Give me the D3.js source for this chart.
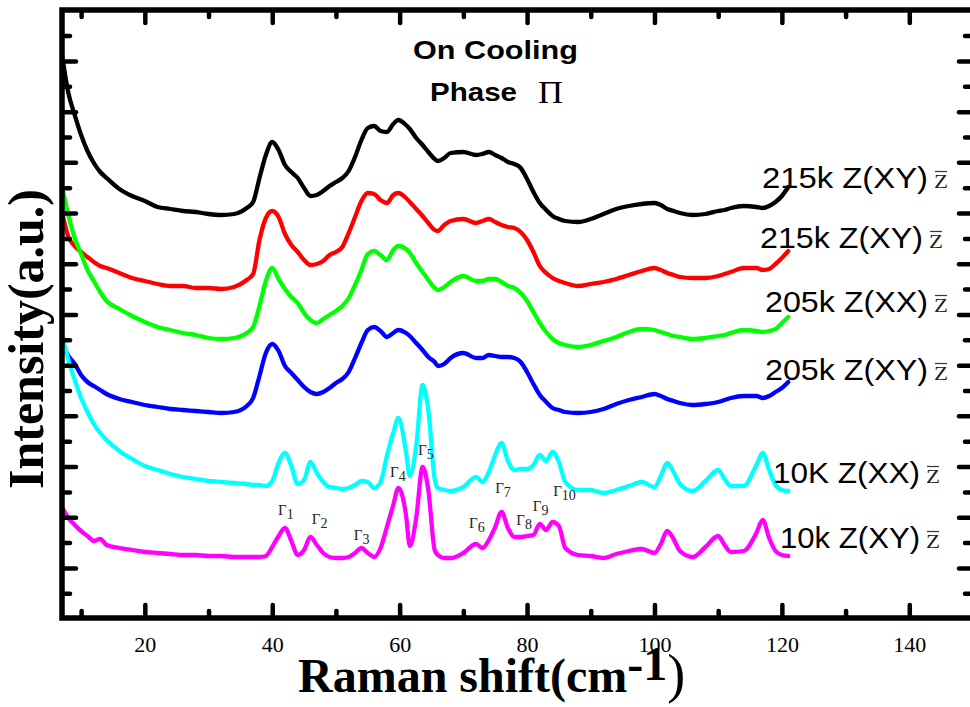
<!DOCTYPE html>
<html>
<head>
<meta charset="utf-8">
<script src="https://cdn.jsdelivr.net/npm/d3@7"></script>
<style>
	body { margin: 0; background: #fff; }
</style>
</head>
<body>
<svg id="chart" width="970" height="707"></svg>
<script>

// Raman shift grid (cm-1), shared by all six spectra
var shift = [7,8,9,10,11,12,13,14,16,18,20,22,24,26,28,30,32,34,36,37,38,39,40,41,42,43,44,45,46,47,48,49,50,51,52,53,54,55,56,57,58,59,59.8,61,61.6,62.6,63.6,64.5,65.5,66,67,68,70,72,73,74,75,76,77,78,79,80,81,82,83,84,85,86,88,90,92,94,96,98,100,101,102,103,104,106,108,110,111,112,114,116,117,118,119,120,121];

// intensities (a.u., offset stack as in the figure)
var k215xyA = [56.0,52.2,50.0,48.0,46.4,45.2,44.3,43.7,42.6,41.9,41.4,40.8,40.6,40.4,40.3,40.1,40.0,40.1,40.7,41.3,43.7,46.0,47.3,46.5,45.0,44.3,43.7,42.7,41.9,42.0,42.4,42.9,43.3,43.7,44.4,45.8,47.5,48.7,48.9,48.4,48.3,49.1,49.5,49.0,48.6,47.7,47.0,46.3,45.6,45.4,45.7,46.2,46.3,46.0,46.1,46.3,46.0,45.7,45.3,45.1,44.7,43.6,42.3,41.2,40.5,39.9,39.6,39.4,39.3,39.6,40.1,40.6,40.9,41.1,41.2,41.0,40.6,40.4,40.2,40.0,40.1,40.4,40.5,40.7,40.9,40.8,40.7,40.9,41.3,41.9,42.8];
var k215xyB = [40.3,37.8,36.9,36.3,35.8,35.3,34.9,34.7,34.2,33.7,33.4,33.1,32.9,32.9,32.7,32.7,32.6,32.8,33.5,34.1,37.5,39.7,40.4,39.8,38.1,37.0,36.3,35.5,35.0,35.1,35.4,36.0,36.3,36.8,38.2,39.8,41.4,42.2,42.1,41.5,41.2,42.0,42.2,41.7,41.3,40.6,39.9,39.2,38.5,38.4,39.0,39.4,39.6,39.2,39.4,39.6,39.3,39.0,38.8,38.7,38.3,37.5,36.3,34.9,34.2,33.7,33.4,33.2,32.9,33.1,33.3,33.6,34.0,34.4,34.7,34.5,34.2,34.0,33.8,33.7,33.7,33.9,34.1,34.3,34.7,34.7,34.5,34.6,35.1,35.7,36.4];
var k205xx = [42.9,40.0,37.7,36.1,34.5,33.4,32.3,31.4,30.6,29.9,29.3,28.8,28.5,28.2,28.0,27.7,27.6,27.7,28.2,28.8,30.9,33.4,34.7,33.6,32.6,31.8,31.2,30.2,29.5,29.2,29.6,30.0,30.4,30.9,31.7,33.0,34.5,36.1,36.4,36.0,35.5,36.5,36.9,36.6,36.2,35.2,34.3,33.5,32.7,32.5,32.8,33.3,33.9,33.4,33.4,33.6,33.6,33.3,32.9,32.7,32.2,31.4,30.3,29.2,28.3,27.6,27.2,27.0,26.8,27.0,27.4,27.8,28.3,28.6,28.5,28.3,28.1,27.9,27.8,27.6,27.7,27.9,28.0,28.2,28.5,28.4,28.3,28.4,28.6,29.2,29.8];
var k205xy = [27.1,25.9,25.1,24.0,23.3,22.9,22.5,22.1,21.6,21.3,21.0,20.8,20.6,20.5,20.4,20.3,20.2,20.3,20.9,21.7,23.9,26.2,27.1,26.4,24.9,24.2,23.5,22.8,22.3,22.1,22.3,22.7,23.2,23.6,24.3,25.7,27.2,28.5,28.8,28.4,27.8,28.2,28.5,28.2,27.9,27.2,26.5,25.8,25.3,24.9,25.1,25.7,26.2,25.7,25.7,26.0,25.9,25.8,25.8,25.7,25.3,24.3,23.1,22.0,21.3,20.7,20.5,20.3,20.2,20.3,20.6,21.1,21.5,21.8,22.1,21.9,21.6,21.4,21.2,21.0,21.1,21.3,21.5,21.7,21.9,21.9,21.7,21.9,22.3,22.7,23.3];
var k10xx = [28.0,25.5,23.5,21.7,20.3,19.1,18.2,17.5,16.4,15.6,14.9,14.5,14.1,13.8,13.6,13.4,13.3,13.2,13.1,13.0,13.0,12.9,13.4,15.2,16.2,14.9,13.1,13.5,15.3,14.2,13.3,12.8,12.7,12.6,12.7,13.0,13.4,13.3,12.7,13.3,15.9,18.2,19.7,16.3,13.9,16.9,23.0,20.5,13.6,12.7,12.5,12.4,12.8,13.8,13.3,14.3,16.0,17.2,15.4,14.5,14.6,14.6,15.0,16.0,15.4,16.3,15.3,13.3,12.5,12.5,12.2,12.5,12.9,13.3,12.8,13.9,15.2,14.3,13.1,12.4,13.4,14.5,13.6,12.9,12.9,15.0,16.2,14.5,13.0,12.5,12.4];
var k10xy = [10.8,9.7,9.0,8.4,7.9,7.4,7.6,7.0,6.7,6.5,6.3,6.2,6.1,6.0,6.0,5.9,5.9,5.8,5.8,5.8,5.8,5.9,6.8,7.9,8.7,7.4,6.0,6.5,7.8,7.0,6.2,5.8,5.7,5.7,5.8,6.2,6.7,6.2,5.8,6.7,8.8,11.0,12.7,10.0,6.9,9.7,14.8,12.5,6.5,6.0,5.7,5.7,6.2,7.1,6.7,7.5,8.8,10.3,8.7,7.8,7.8,7.9,8.0,9.1,8.5,9.3,8.9,6.7,6.0,5.9,5.7,6.1,6.4,6.6,6.2,7.1,8.4,7.6,6.4,5.8,6.8,7.9,7.0,6.3,6.4,8.2,9.5,7.7,6.4,6.0,5.9];

var seriesNames = ["215k Z(XY)", "215k Z(XY)", "205k Z(XX)", "205k Z(XY)", "10K Z(XX)", "10k Z(XY)"];
var seriesValues = [k215xyA, k215xyB, k205xx, k205xy, k10xx, k10xy];
var seriesColors = ["#000000", "#ff0000", "#00ff00", "#0000ff", "#00ffff", "#ff00ff"];

// mode labels: Raman shift and height (a.u.) where each label sits
var gammaIndex = ["1","2","3","4","5","6","7","8","9","10"];
var gammaShift = [40.9, 46.2, 52.8, 58.5, 62.9, 70.9, 75.0, 78.3, 80.9, 84.1];
var gammaLevel = [10.0, 9.1, 7.5, 13.8, 16.0, 8.7, 12.2, 9.0, 10.4, 11.9];

var xMajor = [20, 40, 60, 80, 100, 120, 140];
var xMinor = [10, 30, 50, 70, 90, 110, 130];

// layout of the right hand labels (pixels)
var labelLeft = [762, 760, 765, 765, 773, 780];
var labelBase = [188, 248, 312, 380, 483, 548];
var labelWidth = [166, 163, 163, 163, 147, 140];

var SANS = "'Liberation Sans', Arial, sans-serif";
var SERIF = "'Liberation Serif', 'Times New Roman', serif";

var svg = d3.select("#chart");

var x = d3.scaleLinear().domain([7, 150]).range([62, 973]);
var y = d3.scaleLinear().domain([-0.3, 60.5]).range([618, 10]);

// y ticks carry no labels; one step every 2.535 a.u.
var yMajor = [], yMinor = [];
for (var k = 0; k < 23; k++) {
	if (k % 2 == 1) yMajor.push(2.17 + 2.535 * k);
	else yMinor.push(2.17 + 2.535 * k);
}

function styleAxis(g) {
	g.select(".domain").remove();
	g.selectAll(".tick line")
		.attr("stroke", "#000")
		.attr("stroke-width", 4.5)
		.attr("stroke-linecap", "round");
}

function addAxis(axis, transform) {
	var g = svg.append("g").attr("transform", transform).call(axis);
	styleAxis(g);
	return g;
}

// spectra
var line = d3.line()
	.x(function(d) { return x(d[0]); })
	.y(function(d) { return y(d[1]); })
	.curve(d3.curveMonotoneX);

for (var s = 0; s < seriesValues.length; s++) {
	var pts = shift.map(function(v, i) { return [v, seriesValues[s][i]]; });
	svg.append("path")
		.datum(pts)
		.attr("d", line)
		.attr("fill", "none")
		.attr("stroke", seriesColors[s])
		.attr("stroke-width", 4.3)
		.attr("stroke-linejoin", "round")
		.attr("stroke-linecap", "round");
}

// ticks on all four sides, pointing inward
var bottomMajor = addAxis(d3.axisBottom(x).tickValues(xMajor).tickSize(-13).tickPadding(18).tickFormat(d3.format("d")), "translate(0,618)");
bottomMajor.selectAll("text")
	.attr("font-family", SERIF)
	.attr("font-size", 22)
	.attr("fill", "#000");
addAxis(d3.axisBottom(x).tickValues(xMinor).tickSize(-7).tickFormat(""), "translate(0,618)");
addAxis(d3.axisTop(x).tickValues(xMajor).tickSize(-13).tickFormat(""), "translate(0,10)");
addAxis(d3.axisTop(x).tickValues(xMinor).tickSize(-7).tickFormat(""), "translate(0,10)");
addAxis(d3.axisLeft(y).tickValues(yMajor).tickSize(-14).tickFormat(""), "translate(62,0)");
addAxis(d3.axisLeft(y).tickValues(yMinor).tickSize(-8).tickFormat(""), "translate(62,0)");
addAxis(d3.axisRight(y).tickValues(yMajor).tickSize(-14).tickFormat(""), "translate(973,0)");
addAxis(d3.axisRight(y).tickValues(yMinor).tickSize(-8).tickFormat(""), "translate(973,0)");

svg.append("rect")
	.attr("x", 62).attr("y", 10)
	.attr("width", 911).attr("height", 608)
	.attr("fill", "none")
	.attr("stroke", "#000")
	.attr("stroke-width", 5.5);

// curve labels
for (var j = 0; j < seriesNames.length; j++) {
	svg.append("text")
		.attr("x", labelLeft[j])
		.attr("y", labelBase[j])
		.attr("font-family", SANS)
		.attr("font-size", 29)
		.attr("textLength", labelWidth[j])
		.attr("lengthAdjust", "spacingAndGlyphs")
		.attr("fill", "#000")
		.text(seriesNames[j]);

	var zx = labelLeft[j] + labelWidth[j] + 6;
	svg.append("text")
		.attr("x", zx)
		.attr("y", labelBase[j])
		.attr("font-family", SERIF)
		.attr("font-size", 19)
		.attr("textLength", 14)
		.attr("lengthAdjust", "spacingAndGlyphs")
		.attr("fill", "#222")
		.text("Z");
	svg.append("line")
		.attr("x1", zx + 1).attr("x2", zx + 13)
		.attr("y1", labelBase[j] - 16.5).attr("y2", labelBase[j] - 16.5)
		.attr("stroke", "#333")
		.attr("stroke-width", 1.2);
}

// mode labels
for (var m = 0; m < gammaIndex.length; m++) {
	var gt = svg.append("text")
		.attr("x", x(gammaShift[m]))
		.attr("y", y(gammaLevel[m]))
		.attr("font-family", SERIF)
		.attr("font-size", 15)
		.attr("fill", "#222");
	gt.append("tspan").text("\u0393");
	gt.append("tspan").attr("dy", 4).attr("font-size", 14).text(gammaIndex[m]);
}

// title
svg.append("text")
	.attr("x", 413).attr("y", 59)
	.attr("font-family", SANS)
	.attr("font-weight", "bold")
	.attr("font-size", 26)
	.attr("textLength", 165)
	.attr("lengthAdjust", "spacingAndGlyphs")
	.text("On Cooling");
svg.append("text")
	.attr("x", 430).attr("y", 101)
	.attr("font-family", SANS)
	.attr("font-weight", "bold")
	.attr("font-size", 26)
	.attr("textLength", 87)
	.attr("lengthAdjust", "spacingAndGlyphs")
	.text("Phase");
svg.append("text")
	.attr("x", 538).attr("y", 103)
	.attr("font-family", SERIF)
	.attr("font-size", 32)
	.attr("textLength", 25)
	.attr("lengthAdjust", "spacingAndGlyphs")
	.text("\u03A0");

// axis titles
var xt = svg.append("text")
	.attr("x", 298).attr("y", 692)
	.attr("font-family", SERIF)
	.attr("font-weight", "bold")
	.attr("font-size", 48)
	.attr("fill", "#000");
xt.append("tspan").text("Raman shift(cm");
xt.append("tspan").attr("dy", -12).text("-1");
xt.append("tspan").attr("dy", 12).attr("font-weight", "normal").attr("font-size", 54).text(")");

svg.append("text")
	.attr("transform", "translate(43,339) rotate(-90)")
	.attr("text-anchor", "middle")
	.attr("font-family", SERIF)
	.attr("font-weight", "bold")
	.attr("font-size", 50)
	.attr("fill", "#000")
	.text("Intensity(a.u.)");

</script>
</body>
</html>
